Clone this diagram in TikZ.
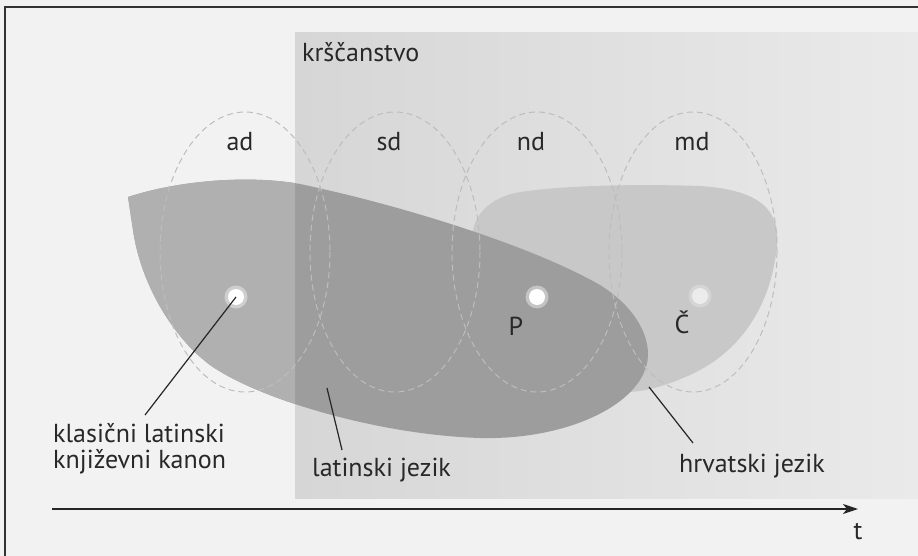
\documentclass[tikz,border=0pt]{standalone}
\usepackage{fontspec}
\setmainfont{PT Sans}
\usetikzlibrary{arrows.meta}
\definecolor{bgc}{RGB}{242,242,242}
\definecolor{rectL}{RGB}{214,214,214}
\definecolor{rectR}{RGB}{234,234,234}
\definecolor{latA}{RGB}{176,176,176}
\definecolor{latB}{RGB}{157,157,157}
\definecolor{hrv}{RGB}{200,200,200}
\definecolor{txt}{RGB}{40,40,40}
\begin{document}
\begin{tikzpicture}[x=1pt,y=-1pt,
  lbl/.style={font=\fontsize{26}{26}\selectfont, text=txt, inner sep=0pt},
  era/.style={draw=black!26, dash pattern=on 6pt off 4pt, line width=1pt},
  leader/.style={draw=black!85, line width=1.2pt},
  dotnode/.style={circle, fill=white, minimum size=16pt, inner sep=0pt},
  halo/.style={circle, fill=white, fill opacity=0.4, minimum size=23pt, inner sep=0pt}]
\useasboundingbox (0,0) rectangle (918,556);
\fill[bgc] (0,0) rectangle (918,556);
% christianity band
\shade[left color=rectL, right color=rectR] (295,33) rectangle (918,498);
% croatian language
\fill[hrv] (472,245) .. controls (470,220) and (485,200) .. (515,193)
  .. controls (560,185) and (640,184) .. (700,186)
  .. controls (760,190) and (780,210) .. (777,245)
  .. controls (772,300) and (745,350) .. (690,375)
  .. controls (665,386) and (645,392) .. (625,392) -- (540,320) -- cycle;
% latin language
\def\latinpath{(128,197) .. controls (180,180) and (250,175) .. (300,184)
  .. controls (400,205) and (530,245) .. (600,285)
  .. controls (640,310) and (655,345) .. (645,370)
  .. controls (630,410) and (560,440) .. (480,438)
  .. controls (380,435) and (260,400) .. (210,365)
  .. controls (170,335) and (140,280) .. (133,230) -- cycle}
\fill[latB] \latinpath;
\begin{scope}
  \clip (0,0) rectangle (295,556);
  \fill[latA] \latinpath;
\end{scope}
% period ellipses
\draw[era] (245,252) ellipse [x radius=85, y radius=140];
\draw[era] (395,252) ellipse [x radius=85, y radius=140];
\draw[era] (537,252) ellipse [x radius=85, y radius=140];
\draw[era] (693,252) ellipse [x radius=84, y radius=140];
% frame
\draw[line width=1.5pt, black!80] (5,570) -- (5,7) -- (930,7);
% labels
\node[lbl, anchor=base west] (kr) at (302,62) {krščanstvo};
\node[lbl, anchor=base] (ad) at (240,151) {ad};
\node[lbl, anchor=base] (sd) at (389,151) {sd};
\node[lbl, anchor=base] (nd) at (531,151) {nd};
\node[lbl, anchor=base] (md) at (692,151) {md};
% dots
\node[halo] (h1) at (236,297) {};
\node[dotnode] (d1) at (236,297) {};
\node[halo] (h2) at (537,297) {};
\node[dotnode] (d2) at (537,297) {};
\node[halo, fill opacity=0.25] (h3) at (700,296) {};
\node[dotnode, fill opacity=0.55] (d3) at (700,296) {};
\node[lbl, anchor=base] (P) at (516,335) {P};
\node[lbl, anchor=base] (C) at (682,333) {Č};
% leader labels
\node[lbl, anchor=base west] (kl1) at (53,442) {klasični latinski};
\node[lbl, anchor=base west] (kl2) at (53,468) {književni kanon};
\node[lbl, anchor=base west] (lj) at (312,476) {latinski jezik};
\node[lbl, anchor=base west] (hj) at (679,472) {hrvatski jezik};
\coordinate (klend) at (145,415);
\coordinate (ljtop) at (327,388);
\coordinate (ljend) at (342,450);
\coordinate (hjtop) at (649,387);
\coordinate (hjend) at (693,443);
\draw[leader] (d1.center) -- (klend);
\draw[leader] (ljtop) -- (ljend);
\draw[leader] (hjtop) -- (hjend);
% time axis
\coordinate (ax0) at (52,509);
\coordinate (ax1) at (858,509);
\draw[line width=1.5pt, black!85, -{Stealth[length=15pt, width=10pt, inset=4pt]}] (ax0) -- (ax1);
\node[lbl, anchor=base] (t) at (858,539) {t};
\end{tikzpicture}
\end{document}
